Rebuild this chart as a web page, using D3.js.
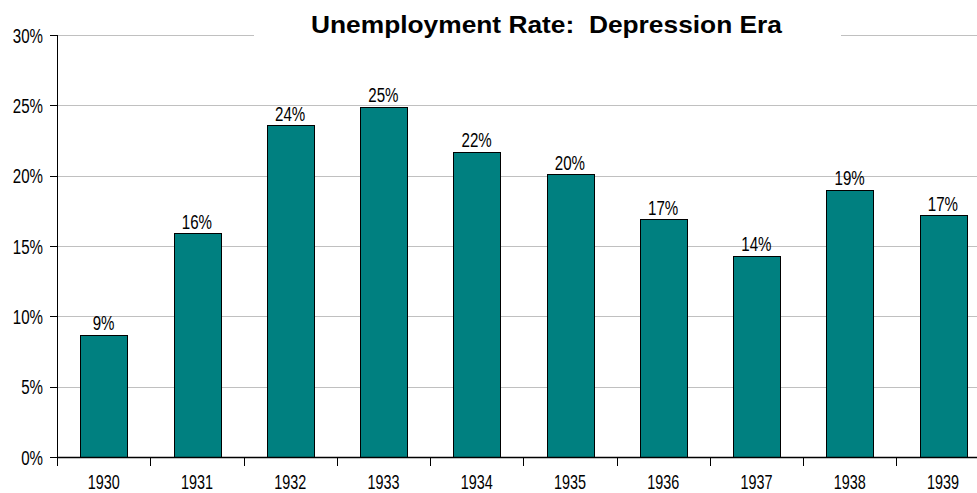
<!DOCTYPE html>
<html>
<head>
<meta charset="utf-8">
<script src="https://cdn.jsdelivr.net/npm/d3@7"></script>
<style>
  html, body { margin: 0; padding: 0; background: #fff; }
  svg { display: block; }
  text { font-family: "Liberation Sans", Arial, sans-serif; fill: #000; }
</style>
</head>
<body>
<svg id="chart" width="977" height="493"></svg>
<script>
const years = ["1930","1931","1932","1933","1934","1935","1936","1937","1938","1939"];
const rates = [8.7, 15.9, 23.6, 24.9, 21.7, 20.1, 16.9, 14.3, 19.0, 17.2];
const yTicks = [0, 5, 10, 15, 20, 25, 30];
const title = "Unemployment Rate:  Depression Era";

(function () {
const data = years.map((yr, i) => ({ year: yr, value: rates[i] }));

const W = 977, H = 493;
const pLeft = 57, pTop = 35, pBottom = 457;
const step = 93.25;
const pRight = pLeft + step * years.length;

const svg = d3.select("#chart");

const x = d3.scaleBand().domain(years).range([pLeft, pRight]).padding(0);
const y = d3.scaleLinear().domain([0, 30]).range([pBottom, pTop]);

const SX = 0.72, FS = 21;

// gridlines
svg.append("g").selectAll("line").data(yTicks.filter(t => t > 0)).join("line")
  .attr("x1", pLeft).attr("x2", W)
  .attr("y1", d => Math.round(y(d)) + 0.5).attr("y2", d => Math.round(y(d)) + 0.5)
  .attr("stroke", "#c0c0c0").attr("stroke-width", 1);

// title background + title
svg.append("rect").attr("x", 254).attr("y", 14).attr("width", 587).attr("height", 28).attr("fill", "#fff");
svg.append("text")
  .attr("x", 546.5).attr("y", 33)
  .attr("text-anchor", "middle")
  .attr("font-size", 24).attr("font-weight", "bold")
  .style("white-space", "pre")
  .attr("xml:space", "preserve")
  .attr("textLength", 471).attr("lengthAdjust", "spacingAndGlyphs")
  .text(title);

// bars
const bw = x.bandwidth() * 0.5;
svg.append("g").selectAll("rect").data(data).join("rect")
  .attr("x", d => Math.round(x(d.year) + x.bandwidth() / 2 - bw / 2) + 0.5)
  .attr("y", d => Math.round(y(d.value)) + 0.5)
  .attr("width", Math.round(bw))
  .attr("height", d => Math.round(pBottom) - Math.round(y(d.value)))
  .attr("fill", "#008080").attr("stroke", "#000").attr("stroke-width", 1);

// bar labels
svg.append("g").selectAll("text").data(data).join("text")
  .attr("transform", d => `translate(${x(d.year) + x.bandwidth() / 2},${y(d.value) - 4.5}) scale(${SX},1)`)
  .attr("text-anchor", "middle").attr("font-size", FS)
  .text(d => Math.round(d.value) + "%");

// y axis
svg.append("line").attr("x1", pLeft + 0.5).attr("x2", pLeft + 0.5).attr("y1", pTop).attr("y2", pBottom + 9)
  .attr("stroke", "#000").attr("stroke-width", 1);
const yt = svg.append("g").selectAll("g").data(yTicks).join("g");
yt.append("line").attr("x1", 50).attr("x2", pLeft)
  .attr("y1", d => Math.round(y(d)) + 0.5).attr("y2", d => Math.round(y(d)) + 0.5)
  .attr("stroke", "#000").attr("stroke-width", 1);
yt.append("text")
  .attr("transform", d => `translate(43,${y(d) + 7.5}) scale(${SX},1)`)
  .attr("text-anchor", "end").attr("font-size", FS)
  .text(d => d + "%");

// x axis
svg.append("line").attr("x1", pLeft).attr("x2", W).attr("y1", pBottom + 0.5).attr("y2", pBottom + 0.5)
  .attr("stroke", "#000").attr("stroke-width", 1.5);
svg.append("g").selectAll("line").data(years.concat(["end"])).join("line")
  .attr("x1", d => Math.round(d === "end" ? pRight : x(d)) + 0.5)
  .attr("x2", d => Math.round(d === "end" ? pRight : x(d)) + 0.5)
  .attr("y1", pBottom).attr("y2", pBottom + 9)
  .attr("stroke", "#000").attr("stroke-width", 1);
svg.append("g").selectAll("text").data(years).join("text")
  .attr("transform", d => `translate(${x(d) + x.bandwidth() / 2},489) scale(${SX},1)`)
  .attr("text-anchor", "middle").attr("font-size", 20)
  .text(d => d);
})();
</script>
</body>
</html>
